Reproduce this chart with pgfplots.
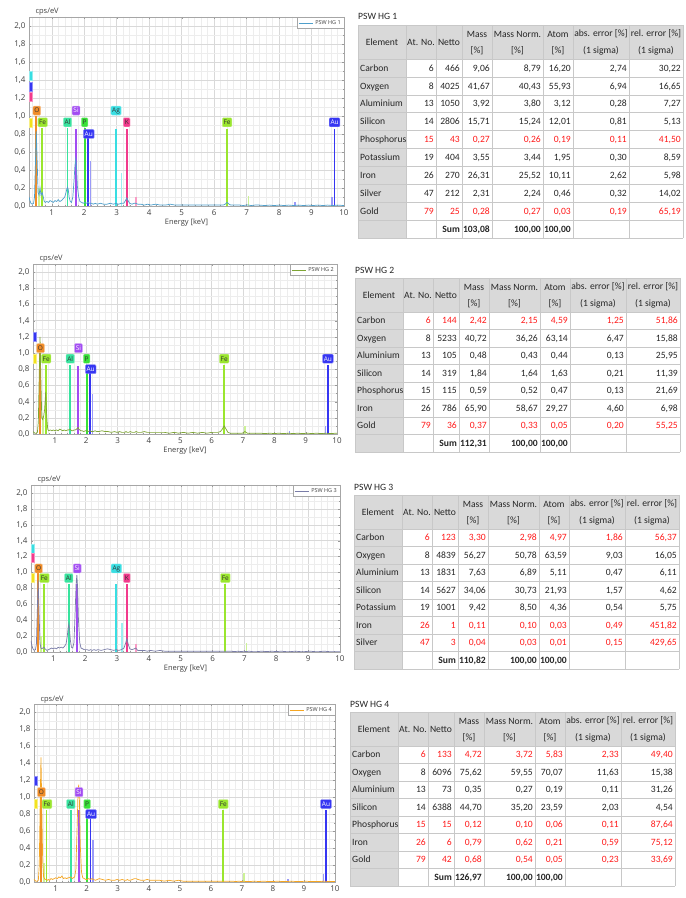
\documentclass[border=0pt]{standalone}
\usepackage{pgfplots}
\pgfplotsset{compat=1.18}
\usepackage{pgfplotstable}
\usepackage{fontspec}
\setmainfont{Carlito}
\newfontfamily\plotfont{Open Sans}

\definecolor{cC}{HTML}{F2E21E}
\definecolor{cO}{HTML}{F08C28}
\definecolor{cFe}{HTML}{9AE62E}
\definecolor{cAl}{HTML}{38E39E}
\definecolor{cSi}{HTML}{A24CF2}
\definecolor{cP}{HTML}{38E238}
\definecolor{cAu}{HTML}{3636F2}
\definecolor{cAg}{HTML}{38DEE2}
\definecolor{cK}{HTML}{F23A8C}
\definecolor{sA}{HTML}{4F9FCB}
\definecolor{sB}{HTML}{7EA534}
\definecolor{sC}{HTML}{7A7DA8}
\definecolor{sD}{HTML}{F5A623}
\definecolor{hdr}{HTML}{D9D9D9}
\definecolor{tred}{HTML}{FF1A1A}
\definecolor{gridc}{HTML}{C8C8C8}

\pgfplotstableread{
E s1 s2 s3 s4
0.30 0.10 0.03 0.14 0.03
0.33 0.06 0.02 0.08 0.02
0.36 0.03 0.01 0.04 0.01
0.40 0.02 0.01 0.02 0.01
0.44 0.03 0.02 0.03 0.02
0.47 0.10 0.15 0.10 0.20
0.50 0.50 0.75 0.55 0.95
0.525 0.83 1.20 0.90 1.47
0.55 0.52 0.70 0.55 0.90
0.58 0.15 0.20 0.12 0.25
0.61 0.12 0.18 0.05 0.06
0.64 0.20 0.22 0.04 0.04
0.67 0.12 0.30 0.05 0.03
0.705 0.15 0.52 0.06 0.03
0.74 0.10 0.20 0.04 0.02
0.77 0.05 0.06 0.03 0.03
0.80 0.04 0.04 0.02 0.02
0.85 0.05 0.05 0.03 0.04
0.90 0.04 0.04 0.04 0.03
0.95 0.06 0.05 0.05 0.04
1.00 0.05 0.04 0.04 0.05
1.05 0.04 0.05 0.05 0.04
1.10 0.06 0.04 0.04 0.06
1.15 0.05 0.06 0.06 0.05
1.20 0.07 0.05 0.05 0.07
1.25 0.05 0.04 0.06 0.04
1.30 0.06 0.05 0.05 0.05
1.35 0.08 0.04 0.07 0.04
1.40 0.10 0.05 0.10 0.05
1.44 0.15 0.05 0.20 0.05
1.465 0.19 0.06 0.30 0.06
1.487 0.21 0.06 0.35 0.06
1.51 0.18 0.05 0.28 0.05
1.535 0.10 0.04 0.15 0.04
1.57 0.05 0.04 0.06 0.05
1.61 0.04 0.05 0.05 0.06
1.65 0.10 0.05 0.12 0.15
1.69 0.30 0.06 0.55 0.65
1.715 0.45 0.07 0.85 1.00
1.74 0.52 0.08 0.97 1.15
1.765 0.42 0.06 0.80 0.95
1.79 0.22 0.05 0.40 0.45
1.83 0.10 0.04 0.12 0.12
1.87 0.05 0.04 0.05 0.05
1.92 0.04 0.03 0.04 0.04
1.97 0.03 0.04 0.03 0.03
2.013 0.04 0.04 0.03 0.03
2.06 0.03 0.03 0.03 0.04
2.12 0.04 0.04 0.02 0.03
2.17 0.03 0.03 0.03 0.04
2.22 0.03 0.03 0.02 0.03
2.28 0.02 0.04 0.03 0.02
2.34 0.03 0.03 0.02 0.03
2.40 0.02 0.03 0.03 0.04
2.50 0.03 0.04 0.02 0.03
2.60 0.02 0.03 0.03 0.02
2.70 0.02 0.03 0.04 0.03
2.80 0.03 0.02 0.03 0.02
2.90 0.02 0.03 0.02 0.02
2.98 0.03 0.02 0.03 0.03
3.06 0.02 0.03 0.02 0.02
3.14 0.03 0.02 0.03 0.03
3.22 0.03 0.02 0.05 0.02
3.27 0.06 0.03 0.11 0.02
3.31 0.09 0.02 0.17 0.03
3.35 0.06 0.02 0.10 0.02
3.40 0.03 0.03 0.04 0.02
3.47 0.02 0.02 0.03 0.03
3.54 0.03 0.02 0.04 0.04
3.59 0.03 0.03 0.05 0.04
3.65 0.02 0.02 0.02 0.03
3.75 0.02 0.02 0.02 0.02
3.85 0.01 0.03 0.02 0.02
3.95 0.02 0.02 0.01 0.03
4.05 0.01 0.02 0.02 0.02
4.20 0.02 0.02 0.01 0.02
4.35 0.01 0.02 0.02 0.02
4.50 0.01 0.02 0.01 0.01
4.65 0.02 0.01 0.01 0.02
4.80 0.01 0.02 0.01 0.01
4.95 0.01 0.01 0.01 0.02
5.10 0.01 0.02 0.01 0.01
5.25 0.01 0.01 0.01 0.01
5.40 0.01 0.02 0.01 0.01
5.55 0.01 0.01 0.01 0.01
5.70 0.01 0.02 0.01 0.01
5.85 0.01 0.01 0.01 0.01
6.00 0.01 0.02 0.01 0.01
6.10 0.01 0.02 0.01 0.01
6.20 0.01 0.02 0.01 0.01
6.28 0.01 0.03 0.01 0.01
6.34 0.02 0.06 0.01 0.01
6.40 0.04 0.10 0.01 0.01
6.46 0.02 0.06 0.01 0.01
6.52 0.01 0.02 0.01 0.01
6.60 0.01 0.01 0.01 0.01
6.70 0.01 0.01 0.005 0.01
6.80 0.01 0.01 0.01 0.005
6.90 0.005 0.01 0.005 0.01
6.98 0.01 0.01 0.01 0.005
7.06 0.01 0.03 0.005 0.01
7.14 0.005 0.01 0.01 0.005
7.25 0.01 0.01 0.005 0.005
7.40 0.01 0.01 0.005 0.01
7.55 0.005 0.01 0.01 0.005
7.70 0.01 0.005 0.005 0.01
7.85 0.005 0.01 0.01 0.005
8.00 0.01 0.005 0.005 0.005
8.15 0.005 0.01 0.01 0.01
8.30 0.01 0.005 0.005 0.005
8.45 0.005 0.01 0.005 0.005
8.60 0.01 0.005 0.01 0.01
8.75 0.005 0.01 0.005 0.005
8.90 0.01 0.005 0.005 0.005
9.05 0.005 0.01 0.01 0.01
9.20 0.01 0.005 0.005 0.005
9.35 0.005 0.01 0.005 0.005
9.50 0.01 0.005 0.01 0.005
9.65 0.005 0.01 0.005 0.01
9.80 0.01 0.005 0.005 0.005
10.00 0.005 0.01 0.005 0.005
}\spec

\pgfplotsset{spec/.style={
  scale only axis, anchor=south west,
  xmin=0.3, xmax=10, ymin=0, ymax=2.1,
  xtick={0,1,2,3,4,5,6,7,8,9,10},
  ytick={0,0.2,0.4,0.6,0.8,1.0,1.2,1.4,1.6,1.8,2.0},
  minor x tick num=4, minor y tick num=1,
  grid=both, major grid style={black!15}, minor grid style={black!7},
  axis line style={black!35},
  tick style={black!40}, major tick length=2pt, minor tick length=1pt,
  /pgf/number format/assume math mode=true,
  yticklabel style={/pgf/number format/.cd, fixed, fixed zerofill, precision=1, use comma},
  ticklabel style={font=\plotfont\fontsize{8}{9}\selectfont, text=black!75},
  xlabel style={font=\plotfont\fontsize{7.5}{8}\selectfont, text=black!75, yshift=3pt},
  legend style={at={(1,1)}, anchor=north east, draw=black!35, fill=white,
    font=\plotfont\fontsize{5.5}{6}\selectfont, inner sep=1pt, text=black!75},
  legend image code/.code={\draw[#1, line width=0.8pt] (0pt,0pt) -- (14pt,0pt);},
}}
\tikzset{
  elab/.style={fill=#1, draw=#1!55!white, rounded corners=1pt, inner sep=1.3pt,
    minimum height=9pt, font=\plotfont\fontsize{6.5}{7}\selectfont, text=black!80},
  elabw/.style={elab=#1, text=white},
  sliver/.style={fill=#1, draw=#1!55!white, minimum width=3pt, minimum height=9pt,
    inner sep=0pt, anchor=west},
  cps/.style={anchor=base west, font=\plotfont\fontsize{7.5}{8}\selectfont, text=black!75}
}
\newcommand\elem[2]{\addplot[ycomb, draw=#1, line width=1.8pt, mark=none, forget plot] coordinates {#2};}
\newcommand\eleml[2]{\addplot[ycomb, draw=#1!50!white, line width=1.5pt, mark=none, forget plot] coordinates {#2};}

% tables
\newcount\rowi
\def\hh{34}
\def\rh{17.5}
\newcommand\tfont{\fontsize{9.6}{10}\selectfont}
\newcommand\tframe[1]{%
  \pgfmathsetmacro\tb{-\hh-\rh*#1}
  \fill[hdr] (0,0) rectangle (325,-\hh);
  \fill[hdr] (0,-\hh) rectangle (48,\tb);
  \foreach \xx in {0,48,78,104,134,185,215,271,325} {\draw[gridc, line width=0.5pt] (\xx,0) -- (\xx,\tb);}
  \foreach \k in {0,...,#1} {\draw[gridc, line width=0.5pt] (0,{-\hh-\rh*\k}) -- (325,{-\hh-\rh*\k});}
  \draw[gridc, line width=0.5pt] (0,0) -- (325,0);
  \node at (24,-17) {Element};
  \node at (63,-17) {At. No.};
  \node at (91,-17) {Netto};
  \node at (119,-9) {Mass}; \node at (119,-25.5) {[\%]};
  \node at (159.5,-9) {Mass Norm.}; \node at (159.5,-25.5) {[\%]};
  \node at (200,-9) {Atom}; \node at (200,-25.5) {[\%]};
  \node at (243,-9) {abs. error [\%]}; \node at (243,-25.5) {(1 sigma)};
  \node at (298,-9) {rel. error [\%]}; \node at (298,-25.5) {(1 sigma)};
  \global\rowi=0
}
\newcommand\trow[9]{%
  \global\advance\rowi by 1
  \pgfmathsetmacro\yc{-\hh-\rh*(\the\rowi-0.5)-3.2}
  \node[anchor=base west] at (2,\yc) {#1};
  \node[anchor=base east,text=#2] at (76,\yc) {#3};
  \node[anchor=base east,text=#2] at (102,\yc) {#4};
  \node[anchor=base east,text=#2] at (132,\yc) {#5};
  \node[anchor=base east,text=#2] at (183,\yc) {#6};
  \node[anchor=base east,text=#2] at (213,\yc) {#7};
  \node[anchor=base east,text=#2] at (269,\yc) {#8};
  \node[anchor=base east,text=#2] at (323,\yc) {#9};
}
\newcommand\sumrow[3]{%
  \global\advance\rowi by 1
  \pgfmathsetmacro\yc{-\hh-\rh*(\the\rowi-0.5)-3.2}
  \node[anchor=base east,font=\tfont\bfseries] at (102,\yc) {Sum};
  \node[anchor=base east,font=\tfont\bfseries] at (132,\yc) {#1};
  \node[anchor=base east,font=\tfont\bfseries] at (183,\yc) {#2};
  \node[anchor=base east,font=\tfont\bfseries] at (213,\yc) {#3};
}
\tikzset{tbl/.style={every node/.style={font=\tfont, inner sep=0pt, text=black!85}}}

\begin{document}
\begin{tikzpicture}[x=1pt,y=1pt]
\path[use as bounding box] (0,0) rectangle (686,898);

% ---------------- Panel 1 ----------------
\begin{axis}[spec, at={(29pt,692pt)}, width=315pt, height=189pt, name=p1, xlabel={Energy [keV]}]
\elem{cO}{(0.525,1.0)}
\elem{cFe}{(0.705,0.87) (6.40,0.85)}
\eleml{cFe}{(0.615,0.2) (7.06,0.11)}
\elem{cAl}{(1.487,0.87)}
\elem{cSi}{(1.74,0.85)}
\elem{cP}{(2.013,0.87)}
\elem{cAu}{(2.12,0.76) (9.71,0.85)}
\eleml{cAu}{(2.20,0.5) (8.49,0.04) (9.63,0.1)}
\elem{cAg}{(2.98,0.85)}
\eleml{cAg}{(3.15,0.37)}
\elem{cK}{(3.31,0.85)}
\eleml{cK}{(3.59,0.1)}
\addplot[sA, line width=0.7pt] table[x=E,y=s1]{\spec};
\addlegendentry{PSW HG 1}
\node[sliver=cAg] at (axis cs:0.3,1.45) {};
\node[sliver=cAu] at (axis cs:0.3,1.33) {};
\node[sliver=cK] at (axis cs:0.3,1.21) {};
\node[sliver=cC] at (axis cs:0.3,0.93) {};
\node[elab=cO] at (axis cs:0.54,1.06) {O};
\node[elab=cFe] at (axis cs:0.72,0.93) {Fe};
\node[elab=cAl] at (axis cs:1.487,0.93) {Al};
\node[elabw=cSi] at (axis cs:1.75,1.06) {Si};
\node[elab=cP] at (axis cs:2.013,0.93) {P};
\node[elabw=cAu] at (axis cs:2.14,0.80) {Au};
\node[elab=cAg] at (axis cs:2.98,1.06) {Ag};
\node[elab=cK] at (axis cs:3.31,0.93) {K};
\node[elab=cFe] at (axis cs:6.40,0.93) {Fe};
\node[elabw=cAu] at (axis cs:9.71,0.93) {Au};
\end{axis}
\node[cps] at ([xshift=3pt,yshift=3pt]p1.north west) {cps/eV};

% ---------------- Panel 2 ----------------
\begin{axis}[spec, at={(33pt,464pt)}, width=304pt, height=170pt, name=p2, xlabel={Energy [keV]}]
\elem{cO}{(0.525,1.0)}
\elem{cFe}{(0.705,0.85) (6.40,0.85)}
\eleml{cFe}{(0.615,0.22) (7.06,0.1)}
\elem{cAl}{(1.487,0.85)}
\elem{cSi}{(1.74,0.84)}
\elem{cP}{(2.013,0.85)}
\elem{cAu}{(2.12,0.77) (9.71,0.85)}
\eleml{cAu}{(2.20,0.5) (8.49,0.04) (9.63,0.1)}
\addplot[sB, line width=0.7pt] table[x=E,y=s2]{\spec};
\addlegendentry{PSW HG 2}
\node[sliver=cAu] at (axis cs:0.3,1.20) {};
\node[sliver=cC] at (axis cs:0.3,0.93) {};
\node[elab=cO] at (axis cs:0.54,1.06) {O};
\node[elab=cFe] at (axis cs:0.72,0.93) {Fe};
\node[elab=cAl] at (axis cs:1.487,0.93) {Al};
\node[elabw=cSi] at (axis cs:1.75,1.06) {Si};
\node[elab=cP] at (axis cs:2.013,0.93) {P};
\node[elabw=cAu] at (axis cs:2.14,0.80) {Au};
\node[elab=cFe] at (axis cs:6.40,0.93) {Fe};
\node[elabw=cAu] at (axis cs:9.71,0.93) {Au};
\end{axis}
\node[cps] at ([xshift=3pt,yshift=3pt]p2.north west) {cps/eV};

% ---------------- Panel 3 ----------------
\begin{axis}[spec, at={(31pt,246pt)}, width=309pt, height=167pt, name=p3, xlabel={Energy [keV]}]
\elem{cO}{(0.525,1.0)}
\elem{cFe}{(0.705,0.85) (6.40,0.85)}
\eleml{cFe}{(0.615,0.2) (7.06,0.11)}
\elem{cAl}{(1.487,0.85)}
\elem{cSi}{(1.74,0.85)}
\elem{cAg}{(2.98,0.85)}
\eleml{cAg}{(3.15,0.37)}
\elem{cK}{(3.31,0.85)}
\eleml{cK}{(3.59,0.1)}
\addplot[sC, line width=0.7pt] table[x=E,y=s3]{\spec};
\addlegendentry{PSW HG 3}
\node[sliver=cAg] at (axis cs:0.3,1.30) {};
\node[sliver=cK] at (axis cs:0.3,1.18) {};
\node[sliver=cC] at (axis cs:0.3,0.93) {};
\node[elab=cO] at (axis cs:0.54,1.05) {O};
\node[elab=cFe] at (axis cs:0.72,0.93) {Fe};
\node[elab=cAl] at (axis cs:1.487,0.93) {Al};
\node[elabw=cSi] at (axis cs:1.75,1.05) {Si};
\node[elab=cAg] at (axis cs:2.98,1.05) {Ag};
\node[elab=cK] at (axis cs:3.31,0.93) {K};
\node[elab=cFe] at (axis cs:6.40,0.93) {Fe};
\end{axis}
\node[cps] at ([xshift=3pt,yshift=3pt]p3.north west) {cps/eV};

% ---------------- Panel 4 ----------------
\begin{axis}[spec, at={(34pt,16pt)}, width=301pt, height=178pt, name=p4]
\elem{cO}{(0.525,1.0)}
\elem{cFe}{(0.705,0.85) (6.40,0.85)}
\eleml{cFe}{(0.615,0.22) (7.06,0.11)}
\elem{cAl}{(1.487,0.85)}
\elem{cSi}{(1.74,0.85)}
\elem{cP}{(2.013,0.85)}
\elem{cAu}{(2.12,0.77) (9.71,0.85)}
\eleml{cAu}{(2.20,0.5) (8.49,0.04) (9.63,0.1)}
\addplot[sD, line width=0.7pt] table[x=E,y=s4]{\spec};
\addlegendentry{PSW HG 4}
\node[sliver=cAu] at (axis cs:0.3,1.19) {};
\node[sliver=cC] at (axis cs:0.3,0.92) {};
\node[elab=cO] at (axis cs:0.54,1.06) {O};
\node[elab=cFe] at (axis cs:0.72,0.92) {Fe};
\node[elab=cAl] at (axis cs:1.487,0.92) {Al};
\node[elabw=cSi] at (axis cs:1.75,1.06) {Si};
\node[elab=cP] at (axis cs:2.013,0.92) {P};
\node[elabw=cAu] at (axis cs:2.14,0.80) {Au};
\node[elab=cFe] at (axis cs:6.40,0.92) {Fe};
\node[elabw=cAu] at (axis cs:9.71,0.92) {Au};
\end{axis}
\node[cps] at ([xshift=3pt,yshift=3pt]p4.north west) {cps/eV};

% ---------------- Table 1 ----------------
\def\rh{17.9}
\begin{scope}[shift={(358pt,873pt)}, tbl]
\node[anchor=base west] at (0,5) {PSW HG 1};
\tframe{10}
\trow{Carbon}{black!85}{6}{466}{9,06}{8,79}{16,20}{2,74}{30,22}
\trow{Oxygen}{black!85}{8}{4025}{41,67}{40,43}{55,93}{6,94}{16,65}
\trow{Aluminium}{black!85}{13}{1050}{3,92}{3,80}{3,12}{0,28}{7,27}
\trow{Silicon}{black!85}{14}{2806}{15,71}{15,24}{12,01}{0,81}{5,13}
\trow{Phosphorus}{tred}{15}{43}{0,27}{0,26}{0,19}{0,11}{41,50}
\trow{Potassium}{black!85}{19}{404}{3,55}{3,44}{1,95}{0,30}{8,59}
\trow{Iron}{black!85}{26}{270}{26,31}{25,52}{10,11}{2,62}{5,98}
\trow{Silver}{black!85}{47}{212}{2,31}{2,24}{0,46}{0,32}{14,02}
\trow{Gold}{tred}{79}{25}{0,28}{0,27}{0,03}{0,19}{65,19}
\sumrow{103,08}{100,00}{100,00}
\end{scope}

% ---------------- Table 2 ----------------
\def\rh{17.5}
\begin{scope}[shift={(355pt,620pt)}, tbl]
\node[anchor=base west] at (0,4) {PSW HG 2};
\tframe{8}
\trow{Carbon}{tred}{6}{144}{2,42}{2,15}{4,59}{1,25}{51,86}
\trow{Oxygen}{black!85}{8}{5233}{40,72}{36,26}{63,14}{6,47}{15,88}
\trow{Aluminium}{black!85}{13}{105}{0,48}{0,43}{0,44}{0,13}{25,95}
\trow{Silicon}{black!85}{14}{319}{1,84}{1,64}{1,63}{0,21}{11,39}
\trow{Phosphorus}{black!85}{15}{115}{0,59}{0,52}{0,47}{0,13}{21,69}
\trow{Iron}{black!85}{26}{786}{65,90}{58,67}{29,27}{4,60}{6,98}
\trow{Gold}{tred}{79}{36}{0,37}{0,33}{0,05}{0,20}{55,25}
\sumrow{112,31}{100,00}{100,00}
\end{scope}

% ---------------- Table 3 ----------------
\begin{scope}[shift={(354pt,403pt)}, tbl]
\node[anchor=base west] at (0,4) {PSW HG 3};
\tframe{8}
\trow{Carbon}{tred}{6}{123}{3,30}{2,98}{4,97}{1,86}{56,37}
\trow{Oxygen}{black!85}{8}{4839}{56,27}{50,78}{63,59}{9,03}{16,05}
\trow{Aluminium}{black!85}{13}{1831}{7,63}{6,89}{5,11}{0,47}{6,11}
\trow{Silicon}{black!85}{14}{5627}{34,06}{30,73}{21,93}{1,57}{4,62}
\trow{Potassium}{black!85}{19}{1001}{9,42}{8,50}{4,36}{0,54}{5,75}
\trow{Iron}{tred}{26}{1}{0,11}{0,10}{0,03}{0,49}{451,82}
\trow{Silver}{tred}{47}{3}{0,04}{0,03}{0,01}{0,15}{429,65}
\sumrow{110,82}{100,00}{100,00}
\end{scope}

% ---------------- Table 4 ----------------
\begin{scope}[shift={(350pt,186pt)}, tbl]
\node[anchor=base west] at (0,4) {PSW HG 4};
\tframe{8}
\trow{Carbon}{tred}{6}{133}{4,72}{3,72}{5,83}{2,33}{49,40}
\trow{Oxygen}{black!85}{8}{6096}{75,62}{59,55}{70,07}{11,63}{15,38}
\trow{Aluminium}{black!85}{13}{73}{0,35}{0,27}{0,19}{0,11}{31,26}
\trow{Silicon}{black!85}{14}{6388}{44,70}{35,20}{23,59}{2,03}{4,54}
\trow{Phosphorus}{tred}{15}{15}{0,12}{0,10}{0,06}{0,11}{87,64}
\trow{Iron}{tred}{26}{6}{0,79}{0,62}{0,21}{0,59}{75,12}
\trow{Gold}{tred}{79}{42}{0,68}{0,54}{0,05}{0,23}{33,69}
\sumrow{126,97}{100,00}{100,00}
\end{scope}
\end{tikzpicture}
\end{document}
